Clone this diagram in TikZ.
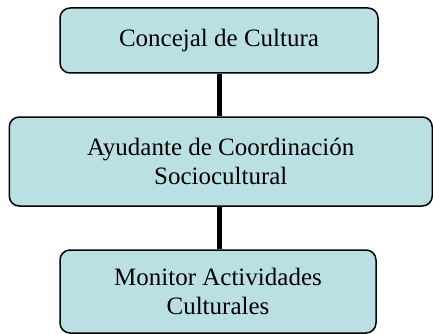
\documentclass[tikz,border=0pt]{standalone}
\usepackage{fontspec}
\setmainfont{Liberation Serif}
\definecolor{boxfill}{RGB}{187,224,227}
\begin{document}
\begin{tikzpicture}[x=1pt,y=-1pt,
  orgbox/.style={draw=black, line width=1.5pt, fill=boxfill, rounded corners=10pt,
    inner sep=0pt, align=center, font=\fontsize{25}{28.5}\selectfont},
  link/.style={draw=black, line width=5pt}]
\useasboundingbox (0,0) rectangle (433,334);
\node[orgbox, minimum width=318pt, minimum height=65pt] (a) at (219,40.5) {Concejal de Cultura};
\node[orgbox, minimum width=423pt, minimum height=89pt] (b) at (220.75,161.5) {Ayudante de Coordinación\\Sociocultural};
\node[orgbox, minimum width=316pt, minimum height=83pt] (c) at (218,291.5) {Monitor Actividades\\Culturales};
\draw[link] (a.south -| 219,0) -- (b.north -| 219,0);
\draw[link] (b.south -| 219,0) -- (c.north -| 219,0);
\end{tikzpicture}
\end{document}
